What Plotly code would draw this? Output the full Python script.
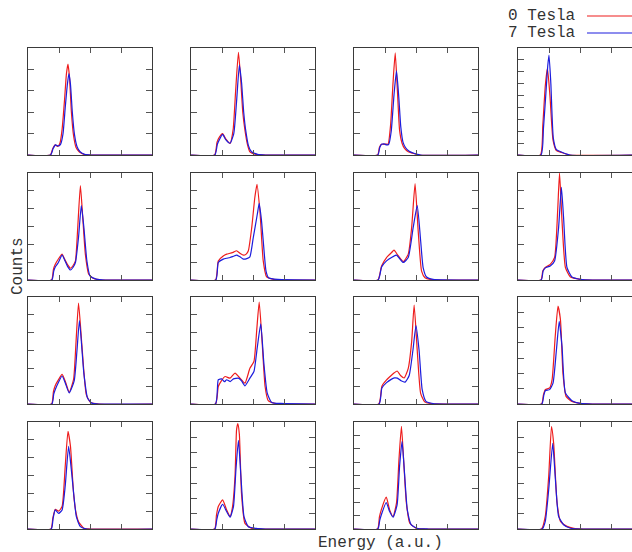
import plotly.graph_objects as go

# ---------------- data (energy in a.u., counts in tick units) ----------------
r1c1_red_x = [0, 0.72, 0.8, 0.88, 0.96, 1.03, 1.1, 1.18, 1.24, 1.29, 1.34, 1.4, 1.47, 1.55, 1.65, 1.8, 2.0, 4.0]
r1c1_red_y = [0, 0, 0.3, 0.47, 0.4, 0.55, 1.2, 2.6, 3.8, 4.25, 3.6, 2.0, 0.9, 0.35, 0.15, 0.03, 0, 0]
r1c1_blue_x = [0, 0.73, 0.81, 0.89, 0.97, 1.05, 1.13, 1.2, 1.27, 1.32, 1.37, 1.43, 1.5, 1.58, 1.68, 1.83, 2.05, 4.0]
r1c1_blue_y = [0, 0, 0.3, 0.47, 0.42, 0.5, 1.0, 2.2, 3.3, 3.8, 3.3, 2.0, 0.95, 0.4, 0.15, 0.03, 0, 0]

r1c2_red_x = [0, 0.76, 0.84, 0.92, 1.02, 1.12, 1.26, 1.36, 1.44, 1.53, 1.6, 1.67, 1.74, 1.82, 1.9, 2.1, 2.4, 4.0]
r1c2_red_y = [0, 0, 0.6, 0.85, 1.0, 0.75, 0.54, 1.2, 3.0, 4.8, 3.6, 2.0, 1.16, 0.5, 0.15, 0.03, 0, 0]
r1c2_blue_x = [0, 0.77, 0.85, 0.92, 1.02, 1.12, 1.26, 1.38, 1.47, 1.56, 1.63, 1.7, 1.77, 1.85, 1.95, 2.15, 2.4, 4.0]
r1c2_blue_y = [0, 0, 0.5, 0.73, 0.96, 0.72, 0.55, 1.0, 2.5, 4.2, 3.4, 2.0, 1.1, 0.45, 0.15, 0.03, 0, 0]

r1c3_red_x = [0, 0.76, 0.82, 0.88, 0.96, 1.04, 1.1, 1.18, 1.26, 1.33, 1.4, 1.47, 1.55, 1.63, 1.75, 1.9, 2.1, 4.0]
r1c3_red_y = [0, 0, 0.35, 0.5, 0.5, 0.51, 0.5, 1.4, 3.4, 4.77, 3.0, 1.16, 0.55, 0.31, 0.15, 0.08, 0, 0]
r1c3_blue_x = [0, 0.77, 0.83, 0.89, 0.97, 1.05, 1.12, 1.2, 1.29, 1.37, 1.44, 1.51, 1.58, 1.66, 1.78, 1.93, 2.15, 4.0]
r1c3_blue_y = [0, 0, 0.35, 0.5, 0.52, 0.47, 0.5, 1.1, 2.8, 3.93, 2.8, 1.3, 0.6, 0.35, 0.17, 0.08, 0, 0]

r1c4_red_x = [0, 0.72, 0.8, 0.88, 0.95, 1.03, 1.13, 1.24, 1.4, 1.67, 4.0]
r1c4_red_y = [0, 0, 2.5, 5.8, 7.3, 5.0, 1.26, 0.37, 0.22, 0, 0]
r1c4_blue_x = [0, 0.74, 0.82, 0.9, 0.96, 1.0, 1.06, 1.14, 1.24, 1.4, 1.67, 4.0]
r1c4_blue_y = [0, 0, 2.2, 5.2, 7.5, 8.4, 6.0, 1.4, 0.45, 0.25, 0, 0]

r2c1_red_x = [0, 0.76, 0.82, 0.88, 0.97, 1.1, 1.2, 1.28, 1.37, 1.45, 1.53, 1.6, 1.69, 1.77, 1.85, 1.96, 2.12, 2.4, 4.0]
r2c1_red_y = [0, 0, 0.6, 0.88, 1.15, 1.45, 1.1, 0.85, 0.66, 0.8, 1.07, 2.8, 5.3, 3.4, 1.45, 0.32, 0.08, 0, 0]
r2c1_blue_x = [0, 0.77, 0.83, 0.88, 0.97, 1.1, 1.2, 1.28, 1.37, 1.45, 1.53, 1.63, 1.72, 1.8, 1.9, 2.0, 2.2, 2.5, 4.0]
r2c1_blue_y = [0, 0, 0.5, 0.73, 0.95, 1.39, 1.05, 0.75, 0.56, 0.7, 0.98, 2.4, 4.17, 3.0, 1.07, 0.23, 0.05, 0, 0]

r2c2_red_x = [0, 0.79, 0.88, 1.04, 1.15, 1.26, 1.36, 1.47, 1.58, 1.69, 1.78, 1.85, 1.96, 2.06, 2.13, 2.23, 2.33, 2.44, 2.66, 3.0, 4.0]
r2c2_red_y = [0, 0, 1.07, 1.35, 1.45, 1.5, 1.55, 1.64, 1.5, 1.39, 1.45, 1.64, 2.95, 4.64, 5.36, 3.7, 1.07, 0.17, 0.04, 0, 0]
r2c2_blue_x = [0, 0.8, 0.88, 1.04, 1.15, 1.26, 1.37, 1.47, 1.58, 1.69, 1.8, 1.9, 2.01, 2.14, 2.2, 2.27, 2.33, 2.42, 2.5, 2.8, 4.0]
r2c2_blue_y = [0, 0, 0.98, 1.17, 1.22, 1.26, 1.33, 1.39, 1.3, 1.17, 1.2, 1.3, 2.39, 3.7, 4.3, 3.4, 2.2, 0.5, 0.13, 0.03, 0]

r2c3_red_x = [0, 0.77, 0.89, 1.05, 1.21, 1.29, 1.43, 1.59, 1.75, 1.86, 1.97, 2.07, 2.18, 2.29, 2.5, 4.0]
r2c3_red_y = [0, 0, 0.79, 1.26, 1.54, 1.67, 1.35, 1.03, 1.45, 2.95, 5.4, 2.76, 0.5, 0.13, 0.02, 0]
r2c3_blue_x = [0, 0.78, 0.89, 1.05, 1.21, 1.37, 1.59, 1.75, 1.91, 2.04, 2.15, 2.23, 2.34, 2.55, 4.0]
r2c3_blue_y = [0, 0, 0.73, 1.07, 1.26, 1.39, 0.98, 1.26, 2.95, 4.17, 2.2, 0.7, 0.17, 0.04, 0]

r2c4_red_x = [0, 0.74, 0.8, 0.88, 1.04, 1.18, 1.28, 1.34, 1.42, 1.53, 1.69, 2.01, 2.4, 4.0]
r2c4_red_y = [0, 0, 0.5, 0.7, 0.88, 1.26, 3.9, 6.0, 3.3, 0.7, 0.17, 0.04, 0, 0]
r2c4_blue_x = [0, 0.75, 0.81, 0.88, 1.04, 1.18, 1.31, 1.4, 1.47, 1.58, 1.74, 2.01, 2.4, 4.0]
r2c4_blue_y = [0, 0, 0.5, 0.68, 0.79, 1.07, 2.95, 5.2, 3.5, 0.7, 0.17, 0.04, 0, 0]

r3c1_red_x = [0, 0.76, 0.82, 0.88, 0.98, 1.1, 1.2, 1.33, 1.47, 1.55, 1.63, 1.74, 1.88, 2.01, 2.3, 4.0]
r3c1_red_y = [0, 0, 0.7, 1.04, 1.35, 1.66, 1.28, 0.66, 1.38, 3.5, 5.66, 3.26, 0.53, 0.1, 0, 0]
r3c1_blue_x = [0, 0.77, 0.83, 0.88, 0.98, 1.1, 1.2, 1.33, 1.49, 1.58, 1.66, 1.8, 1.92, 2.06, 2.3, 4.0]
r3c1_blue_y = [0, 0, 0.55, 0.81, 1.2, 1.57, 1.19, 0.62, 1.3, 3.0, 4.68, 1.75, 0.34, 0.05, 0, 0]

r3c2_red_x = [0, 0.79, 0.88, 0.98, 1.1, 1.26, 1.42, 1.58, 1.74, 1.9, 2.03, 2.12, 2.2, 2.29, 2.39, 2.49, 2.7, 3.0, 4.0]
r3c2_red_y = [0, 0, 0.98, 1.3, 1.54, 1.45, 1.73, 1.45, 1.17, 2.0, 2.38, 4.14, 5.72, 3.59, 0.98, 0.19, 0.04, 0, 0]
r3c2_blue_x = [0, 0.79, 0.88, 0.99, 1.08, 1.15, 1.26, 1.37, 1.53, 1.63, 1.74, 1.9, 2.03, 2.14, 2.25, 2.35, 2.46, 2.6, 2.9, 4.0]
r3c2_blue_y = [0, 0, 1.36, 1.41, 1.25, 1.36, 1.26, 1.41, 1.45, 1.3, 1.02, 1.45, 1.82, 3.2, 4.5, 2.29, 0.61, 0.09, 0.03, 0]

r3c3_red_x = [0, 0.8, 0.9, 1.05, 1.2, 1.3, 1.39, 1.5, 1.62, 1.75, 1.86, 1.94, 2.04, 2.15, 2.28, 2.5, 4.0]
r3c3_red_y = [0, 0, 1.0, 1.35, 1.6, 1.75, 1.85, 1.6, 1.46, 2.0, 3.5, 5.55, 3.0, 0.6, 0.12, 0.02, 0]
r3c3_blue_x = [0, 0.81, 0.9, 1.05, 1.2, 1.3, 1.4, 1.52, 1.65, 1.78, 1.9, 2.0, 2.1, 2.2, 2.32, 2.55, 4.0]
r3c3_blue_y = [0, 0, 0.9, 1.2, 1.38, 1.46, 1.45, 1.3, 1.23, 1.6, 3.0, 4.4, 3.0, 0.8, 0.15, 0.03, 0]

r3c4_red_x = [0, 0.76, 0.82, 0.88, 1.02, 1.1, 1.2, 1.29, 1.37, 1.45, 1.55, 1.74, 2.01, 2.4, 4.0]
r3c4_red_y = [0, 0, 0.6, 0.94, 1.05, 1.6, 4.4, 6.4, 5.5, 2.0, 0.5, 0.17, 0.04, 0, 0]
r3c4_blue_x = [0, 0.77, 0.83, 0.88, 1.02, 1.13, 1.24, 1.33, 1.42, 1.53, 1.74, 2.01, 2.4, 4.0]
r3c4_blue_y = [0, 0, 0.55, 0.87, 0.94, 1.37, 3.55, 5.4, 3.77, 0.72, 0.22, 0.04, 0, 0]

r4c1_red_x = [0, 0.74, 0.8, 0.88, 0.99, 1.1, 1.2, 1.29, 1.37, 1.47, 1.55, 1.63, 1.8, 2.0, 4.0]
r4c1_red_y = [0, 0, 0.6, 1.1, 1.0, 1.26, 3.5, 5.48, 4.63, 2.0, 0.9, 0.41, 0.04, 0, 0]
r4c1_blue_x = [0, 0.75, 0.81, 0.88, 0.99, 1.1, 1.2, 1.31, 1.42, 1.56, 1.69, 1.9, 4.0]
r4c1_blue_y = [0, 0, 0.6, 1.07, 0.88, 1.07, 2.4, 4.63, 2.94, 0.69, 0.13, 0, 0]

r4c2_red_x = [0, 0.76, 0.82, 0.88, 1.02, 1.15, 1.26, 1.34, 1.42, 1.47, 1.51, 1.56, 1.63, 1.74, 1.96, 2.3, 4.0]
r4c2_red_y = [0, 0, 0.9, 1.47, 1.9, 1.25, 0.81, 1.47, 3.45, 6.5, 6.9, 6.2, 2.3, 0.37, 0.04, 0, 0]
r4c2_blue_x = [0, 0.77, 0.83, 0.88, 1.02, 1.15, 1.26, 1.37, 1.45, 1.53, 1.61, 1.71, 1.85, 2.1, 2.4, 4.0]
r4c2_blue_y = [0, 0, 0.6, 1.03, 1.62, 1.14, 0.77, 1.47, 3.9, 5.8, 3.45, 0.81, 0.15, 0.04, 0, 0]

r4c3_red_x = [0, 0.76, 0.82, 0.88, 1.04, 1.15, 1.26, 1.37, 1.45, 1.53, 1.6, 1.69, 1.8, 2.01, 2.3, 4.0]
r4c3_red_y = [0, 0, 0.9, 1.43, 2.38, 1.43, 0.93, 1.93, 5.18, 7.68, 5.18, 1.93, 0.43, 0.05, 0, 0]
r4c3_blue_x = [0, 0.77, 0.83, 0.88, 1.04, 1.15, 1.26, 1.39, 1.47, 1.55, 1.63, 1.72, 1.85, 2.06, 2.4, 4.0]
r4c3_blue_y = [0, 0, 0.65, 1.05, 1.98, 1.3, 0.88, 1.8, 4.68, 6.55, 4.18, 1.43, 0.3, 0.04, 0, 0]

r4c4_red_x = [0, 0.76, 0.88, 0.99, 1.08, 1.15, 1.26, 1.37, 1.58, 1.8, 2.1, 4.0]
r4c4_red_y = [0, 0, 0.83, 3.44, 6.7, 5.6, 1.7, 0.5, 0.17, 0.04, 0, 0]
r4c4_blue_x = [0, 0.78, 0.88, 0.99, 1.12, 1.2, 1.31, 1.47, 1.7, 2.1, 4.0]
r4c4_blue_y = [0, 0, 0.5, 2.57, 5.6, 3.44, 0.83, 0.28, 0.05, 0, 0]

# number of y-tick divisions per panel (row-major)
y_divisions = [[5, 5, 5, 9],
               [6, 6, 6, 6],
               [6, 6, 6, 7],
               [6, 7, 8, 7]]
x_tick_values = [1, 2, 3]
series_names = ["0 Tesla", "7 Tesla"]
series_colors = ["#ee1c1c", "#1c1cdd"]
x_label = "Energy (a.u.)"
y_label = "Counts"

panels = [
    [(r1c1_red_x, r1c1_red_y, r1c1_blue_x, r1c1_blue_y),
     (r1c2_red_x, r1c2_red_y, r1c2_blue_x, r1c2_blue_y),
     (r1c3_red_x, r1c3_red_y, r1c3_blue_x, r1c3_blue_y),
     (r1c4_red_x, r1c4_red_y, r1c4_blue_x, r1c4_blue_y)],
    [(r2c1_red_x, r2c1_red_y, r2c1_blue_x, r2c1_blue_y),
     (r2c2_red_x, r2c2_red_y, r2c2_blue_x, r2c2_blue_y),
     (r2c3_red_x, r2c3_red_y, r2c3_blue_x, r2c3_blue_y),
     (r2c4_red_x, r2c4_red_y, r2c4_blue_x, r2c4_blue_y)],
    [(r3c1_red_x, r3c1_red_y, r3c1_blue_x, r3c1_blue_y),
     (r3c2_red_x, r3c2_red_y, r3c2_blue_x, r3c2_blue_y),
     (r3c3_red_x, r3c3_red_y, r3c3_blue_x, r3c3_blue_y),
     (r3c4_red_x, r3c4_red_y, r3c4_blue_x, r3c4_blue_y)],
    [(r4c1_red_x, r4c1_red_y, r4c1_blue_x, r4c1_blue_y),
     (r4c2_red_x, r4c2_red_y, r4c2_blue_x, r4c2_blue_y),
     (r4c3_red_x, r4c3_red_y, r4c3_blue_x, r4c3_blue_y),
     (r4c4_red_x, r4c4_red_y, r4c4_blue_x, r4c4_blue_y)],
]

# ---------------- layout geometry (pixels) ----------------
W, H = 632, 552
col_left = [28, 191, 354, 518]
panel_w = 124
row_top = [48, 173, 297, 422]
panel_h = 107
FONT = "Liberation Mono, Courier New, monospace"

fig = go.Figure()
layout = dict(
    width=W, height=H,
    margin=dict(l=0, r=0, t=0, b=0),
    paper_bgcolor="white", plot_bgcolor="white",
    showlegend=False,
)

idx = 0
for r in range(4):
    for c in range(4):
        idx += 1
        xa = "x" if idx == 1 else f"x{idx}"
        ya = "y" if idx == 1 else f"y{idx}"
        left = col_left[c]
        right = min(left + panel_w, W)
        xmax = 4.0 * (right - left) / panel_w
        n = y_divisions[r][c]
        rx, ry, bx, by = panels[r][c]
        fig.add_trace(go.Scatter(x=rx, y=ry, mode="lines", xaxis=xa, yaxis=ya,
                                 line=dict(color=series_colors[0], width=1.2,
                                           shape="spline", smoothing=0.5),
                                 hoverinfo="skip"))
        fig.add_trace(go.Scatter(x=bx, y=by, mode="lines", xaxis=xa, yaxis=ya,
                                 line=dict(color=series_colors[1], width=1.2,
                                           shape="spline", smoothing=0.5),
                                 hoverinfo="skip"))
        common = dict(showgrid=False, zeroline=False, showticklabels=False,
                      ticks="inside", ticklen=5, tickwidth=1, tickcolor="#555555",
                      showline=True, linecolor="#3a3a3a", linewidth=1)
        layout["xaxis" if idx == 1 else f"xaxis{idx}"] = dict(
            common, domain=[left / W, right / W], range=[0, xmax],
            tickvals=x_tick_values, mirror="allticks", anchor=ya)
        layout["yaxis" if idx == 1 else f"yaxis{idx}"] = dict(
            common, domain=[(H - row_top[r] - panel_h) / H, (H - row_top[r]) / H],
            range=[0, n], tickvals=list(range(1, n)), ticklen=6,
            mirror=("allticks" if c < 3 else False), anchor=xa)

annotations = [
    dict(text=x_label, x=380 / W, y=(H - 543) / H, xref="paper", yref="paper",
         showarrow=False, font=dict(family=FONT, size=16, color="#333333"),
         xanchor="center", yanchor="middle"),
    dict(text=y_label, x=18 / W, y=(H - 266) / H, xref="paper", yref="paper",
         showarrow=False, textangle=-90, font=dict(family=FONT, size=16, color="#333333"),
         xanchor="center", yanchor="middle"),
]
shapes = []
legend_y = [16, 33]
for i, name in enumerate(series_names):
    annotations.append(dict(text=name, x=578 / W, y=(H - legend_y[i]) / H,
                            xref="paper", yref="paper", showarrow=False,
                            font=dict(family=FONT, size=16, color="#333333"),
                            xanchor="right", yanchor="middle"))
    shapes.append(dict(type="line", xref="paper", yref="paper",
                       x0=587 / W, x1=1.0, y0=(H - legend_y[i]) / H, y1=(H - legend_y[i]) / H,
                       line=dict(color=series_colors[i], width=1.2)))

layout["annotations"] = annotations
layout["shapes"] = shapes
fig.update_layout(**layout)
fig.write_html("out.html")
